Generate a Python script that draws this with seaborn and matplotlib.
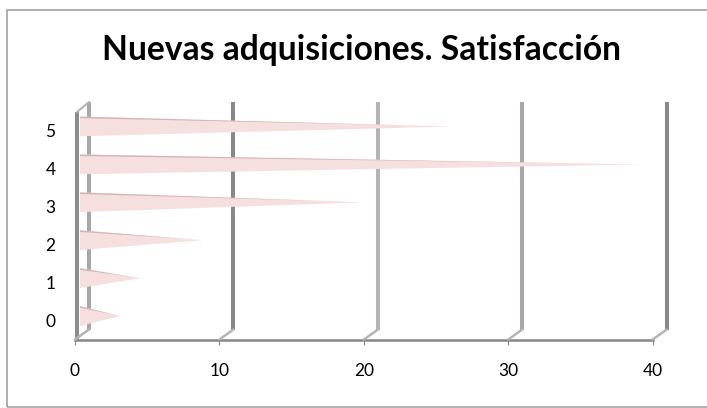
import matplotlib
matplotlib.use('Agg')
import matplotlib.pyplot as plt
import matplotlib.transforms as mtrans
from matplotlib.patches import Polygon, Rectangle
import pandas as pd
import seaborn as sns

categories = ['5', '4', '3', '2', '1', '0']
values = [25.8, 39.0, 19.6, 8.5, 4.2, 2.8]
x_ticks = [0, 10, 20, 30, 40]
wall_colors = ['#a8a8a8', '#888888', '#b4b4b4', '#a8a8a8', '#888888']
title = 'Nuevas adquisiciones. Satisfacción'

W, H = 707, 408
AX_L, AX_R = 75, 652.7
AX_TOP, AX_BOT = 112, 339.5
DEPTH_X, DEPTH_Y = 14, 10

sns.set_style('white')
plt.rcParams['font.family'] = ['Lato', 'DejaVu Sans']

fig = plt.figure(figsize=(W / 100, H / 100), dpi=100, facecolor='white')
ax = fig.add_axes([AX_L / W, 1 - AX_BOT / H, (AX_R - AX_L) / W, (AX_BOT - AX_TOP) / H])
ax.patch.set_alpha(0)

df = pd.DataFrame({'cat': categories, 'val': values})
sns.barplot(data=df, y='cat', x='val', color='#f5dede', width=0.52, ax=ax, orient='h')

ax.set_xlim(0, 40)
ax.set_ylim(5.5, -0.5)
ax.set_xlabel('')
ax.set_ylabel('')
ax.set_xticks(x_ticks)


def px(dx, dy):
    # shift in screen pixels, dy up
    return mtrans.ScaledTranslation(dx / 100, dy / 100, fig.dpi_scale_trans)


# bars become cones, seen from the side
for bar in list(ax.patches):
    x0, y0 = bar.get_x(), bar.get_y()
    w, h = bar.get_width(), bar.get_height()
    bar.remove()
    off = ax.transData + px(5, 4.5)
    mid = y0 + h / 2
    ax.add_patch(Polygon([(x0, y0 + h), (x0, y0), (x0 + w, mid)], closed=True, fc='#f6dfdf', ec='none',
                         transform=off, zorder=3, clip_on=False))
    ax.add_patch(Polygon([(x0, y0 + h * 0.08), (x0, y0), (x0 + w * 0.85, y0 + h * 0.5 * 0.85 + h * 0.005)], closed=True,
                         fc='#d3b4b4', ec='none', transform=off, zorder=4, clip_on=False))

# back wall lines and the slanted bits down to the floor
base = ax.get_xaxis_transform()
for t, col in zip(x_ticks, wall_colors):
    ax.plot([t, t], [0, 1], transform=base + px(DEPTH_X, DEPTH_Y), color=col, lw=2.9,
            solid_capstyle='butt', zorder=1, clip_on=False)
    p0 = base.transform((t, 0))
    fig.add_artist(plt.Line2D([p0[0] / W, (p0[0] + DEPTH_X) / W], [p0[1] / H, (p0[1] + DEPTH_Y) / H],
                              color='#b5b5b5', lw=1.8, zorder=1))

# front wall, with its slant to the back one
ax.plot([0, 0], [0, 1], transform=base + px(2, 0), color='#8c8c8c', lw=2.9, solid_capstyle='butt',
        zorder=2, clip_on=False)
p1 = base.transform((0, 1))
fig.add_artist(plt.Line2D([(p1[0] + 2) / W, (p1[0] + DEPTH_X) / W], [p1[1] / H, (p1[1] + DEPTH_Y) / H],
                          color='#b5b5b5', lw=1.5))

ax.spines['top'].set_visible(False)
ax.spines['right'].set_visible(False)
ax.spines['left'].set_visible(False)
ax.spines['bottom'].set_color('#868686')
ax.spines['bottom'].set_linewidth(1.8)
ax.tick_params(axis='x', length=3.5, width=0.8, color='#868686', labelsize=12.5, labelcolor='black', pad=13.5,
               bottom=True)
ax.tick_params(axis='y', length=0, labelsize=12.5, labelcolor='black', pad=14)

fig.add_artist(Rectangle((7 / W, 1 - 407 / H), 740 / W, 397 / H, transform=fig.transFigure, fc='none',
                         ec='#9a9a9a', lw=1.1))
fig.text(362 / W, 1 - 60 / H, title, ha='center', va='baseline', fontsize=24.2, fontweight='bold', color='black')

fig.savefig('out.png', dpi=100)
